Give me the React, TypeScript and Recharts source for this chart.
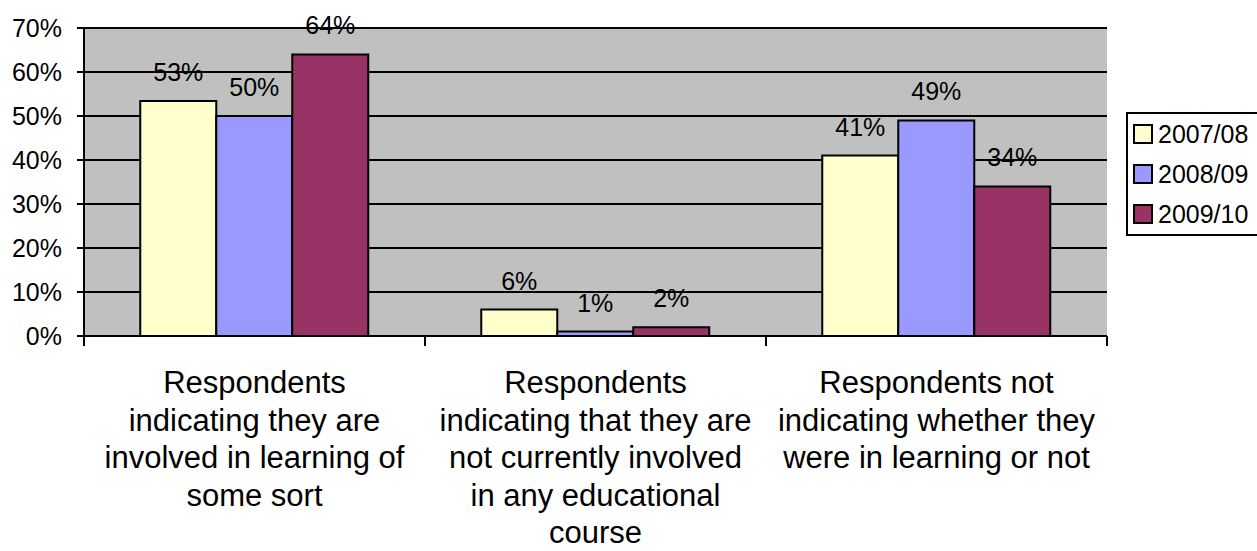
import React from "react";
import {
  BarChart,
  Bar,
  XAxis,
  YAxis,
  CartesianGrid,
  Legend,
  LabelList,
} from "recharts";

// categories, each wrapped the way the original axis shows it
const categories = [
  "Respondents indicating they are involved in learning of some sort",
  "Respondents indicating that they are not currently involved in any educational course",
  "Respondents not indicating whether they were in learning or not",
];
const categoryLines = [
  ["Respondents", "indicating they are", "involved in learning of", "some sort"],
  ["Respondents", "indicating that they are", "not currently involved", "in any educational", "course"],
  ["Respondents not", "indicating whether they", "were in learning or not"],
];

const seriesNames = ["2007/08", "2008/09", "2009/10"];
const values0708 = [53.4, 6, 41];
const values0809 = [50, 1, 49];
const values0910 = [64, 2, 34];
const yTicks = [0, 10, 20, 30, 40, 50, 60, 70];

const colors = ["#FFFFCC", "#9999FF", "#993366"];

const data = categories.map((name, i) => ({
  name,
  lines: categoryLines[i],
  s0: values0708[i],
  s1: values0809[i],
  s2: values0910[i],
}));

const W = 1257;
const H = 551;
const margin = { top: 28, right: 150, bottom: 0, left: 0 };
const yAxisW = 84;
const xAxisH = 215;
const font = "'Liberation Sans', Arial, sans-serif";
const bandW = (W - margin.left - margin.right - yAxisW) / categories.length;

function CategoryTick(props: any) {
  const { x, y, index, payload } = props;
  const lines: string[] = data[index]?.lines ?? [String(payload.value)];
  const left = x - bandW / 2;
  return (
    <g>
      <line x1={left} x2={left} y1={y} y2={y + 10} stroke="#000" strokeWidth={2} />
      {index === categories.length - 1 && (
        <line x1={x + bandW / 2} x2={x + bandW / 2} y1={y} y2={y + 10} stroke="#000" strokeWidth={2} />
      )}
      <text x={x} y={y} textAnchor="middle" fontFamily={font} fontSize={31} fill="#000">
        {lines.map((l, i) => (
          <tspan key={i} x={x} y={y + 57 + i * 37.5}>
            {l}
          </tspan>
        ))}
      </text>
    </g>
  );
}

function LegendBox() {
  return (
    <div
      style={{
        border: "2px solid #000",
        width: 140,
        background: "#fff",
        fontFamily: font,
        fontSize: 25,
        color: "#000",
        boxSizing: "border-box",
      }}
    >
      {seriesNames.map((n, i) => (
        <div key={n} style={{ display: "flex", alignItems: "center", height: 40, paddingLeft: 5 }}>
          <div
            style={{
              width: 20,
              height: 20,
              background: colors[i],
              border: "2px solid #000",
              boxSizing: "border-box",
            }}
          />
          <span style={{ marginLeft: 5, lineHeight: 1 }}>{n}</span>
        </div>
      ))}
    </div>
  );
}

const pct = (v: any) => `${Math.round(Number(v))}%`;

export default function App() {
  return (
    <div style={{ position: "absolute", left: 0, top: 0, background: "#fff" }}>
      <BarChart
        width={W}
        height={H}
        data={data}
        margin={margin}
        barCategoryGap="16.5%"
        barGap={0}
      >
        <CartesianGrid
          vertical={false}
          stroke="#000"
          strokeWidth={2}
          fill="#C0C0C0"
          fillOpacity={1}
        />
        <XAxis
          dataKey="name"
          height={xAxisH}
          interval={0}
          tickSize={0}
          tickMargin={0}
          tickLine={false}
          axisLine={{ stroke: "#000", strokeWidth: 2 }}
          tick={<CategoryTick />}
        />
        <YAxis
          width={yAxisW}
          domain={[0, 70]}
          ticks={yTicks}
          interval={0}
          tickFormatter={(v) => `${v}%`}
          tickSize={7}
          tickMargin={15}
          tickLine={{ stroke: "#000", strokeWidth: 2 }}
          axisLine={{ stroke: "#000", strokeWidth: 2 }}
          tick={{ fill: "#000", fontSize: 25, fontFamily: font }}
        />
        <YAxis
          yAxisId="frame"
          orientation="right"
          width={0}
          tick={false}
          tickLine={false}
          axisLine={{ stroke: "#808080", strokeWidth: 2 }}
        />
        <Legend
          layout="vertical"
          align="center"
          verticalAlign="middle"
          content={() => <LegendBox />}
          wrapperStyle={{ position: "absolute", left: 1126, top: 112, width: 140 }}
        />
        {["s0", "s1", "s2"].map((k, i) => (
          <Bar
            key={k}
            dataKey={k}
            name={seriesNames[i]}
            fill={colors[i]}
            stroke="#000"
            strokeWidth={2}
            isAnimationActive={false}
          >
            <LabelList
              dataKey={k}
              position="top"
              offset={20}
              formatter={pct}
              fill="#000"
              fontSize={25}
              fontFamily={font}
            />
          </Bar>
        ))}
      </BarChart>
    </div>
  );
}
